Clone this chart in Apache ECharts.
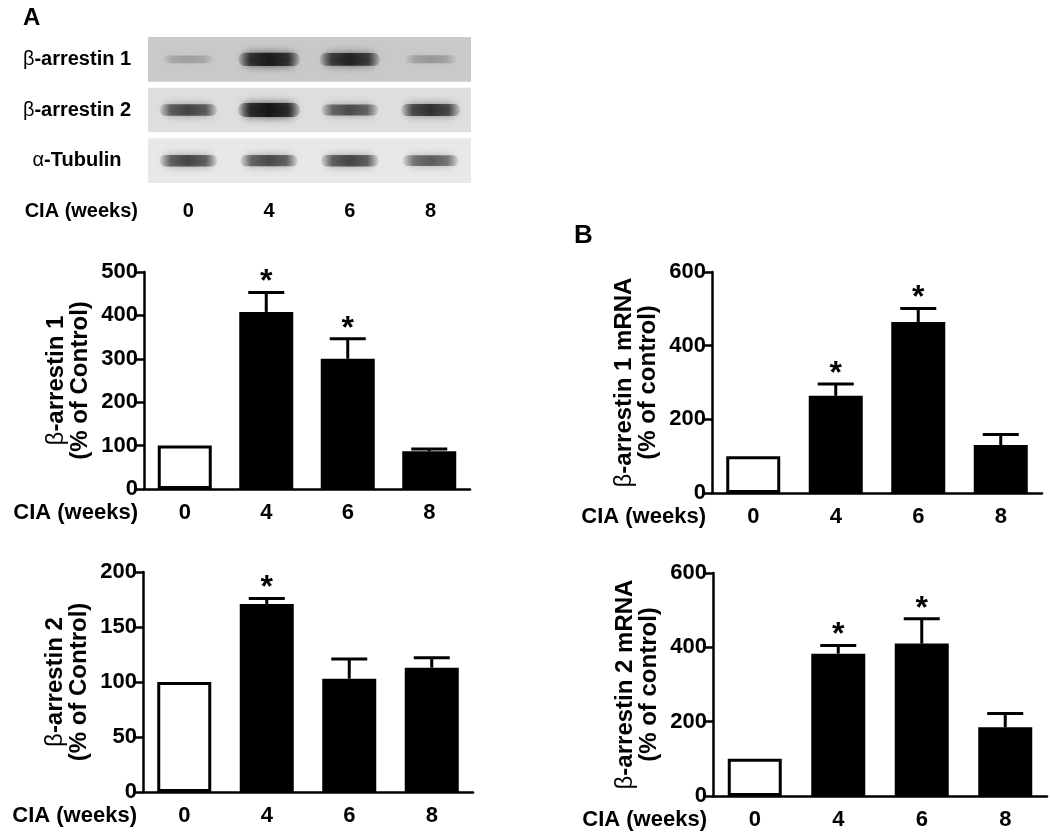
<!DOCTYPE html>
<html>
<head>
<meta charset="utf-8">
<script src="https://cdn.jsdelivr.net/npm/echarts@6/dist/echarts.min.js"></script>
<style>
  html, body { margin: 0; padding: 0; background: #fff; }
  #chart { width: 1050px; height: 832px; }
</style>
</head>
<body>
<div id="chart"></div>
<script>
  const weeks = ['0', '4', '6', '8']

  // western blot, band density per lane (0..1)
  const blotRows = ['{g|β}-arrestin 1', '{g|β}-arrestin 2', '{g|α}-Tubulin']
  const blotArr1 = [0.22, 0.92, 0.85, 0.25]
  const blotArr2 = [0.68, 0.97, 0.64, 0.78]
  const blotTub = [0.68, 0.66, 0.68, 0.58]

  // quantification, % of control: mean, SEM, significance
  const arr1Protein = [100, 408, 300, 87]
  const arr1ProteinSem = [0, 45, 46, 5]
  const arr1ProteinSig = [0, 1, 1, 0]

  const arr2Protein = [100, 171, 103, 113]
  const arr2ProteinSem = [0, 5, 18, 9]
  const arr2ProteinSig = [0, 1, 0, 0]

  const arr1Mrna = [100, 264, 464, 130]
  const arr1MrnaSem = [0, 32, 37, 29]
  const arr1MrnaSig = [0, 1, 1, 0]

  const arr2Mrna = [100, 383, 410, 185]
  const arr2MrnaSem = [0, 22, 67, 37]
  const arr2MrnaSig = [0, 1, 1, 0]

  const FONT = '"Liberation Sans", Arial, sans-serif'
  const panelFill = ['#c9c9c9', '#dedede', '#e8e8e8']

  const chart = echarts.init(document.getElementById('chart'), null, { renderer: 'canvas' })

  const grids = [
    { left: 148, top: 34, width: 323, height: 152 },
    { left: 144, top: 272, width: 326, height: 217 },
    { left: 143, top: 572, width: 330, height: 220 },
    { left: 712, top: 272, width: 330, height: 221 },
    { left: 713, top: 573, width: 334, height: 223 }
  ]

  const xAxes = []
  const yAxes = []
  const series = []

  // blot grid
  xAxes.push({
    gridIndex: 0, type: 'category', data: weeks,
    axisLine: { show: false }, axisTick: { show: false },
    axisLabel: { color: '#000', fontFamily: FONT, fontWeight: 'bold', fontSize: 20, margin: 15 },
    name: 'CIA (weeks)', nameLocation: 'start', nameGap: 10,
    nameTextStyle: { color: '#000', fontFamily: FONT, fontWeight: 'bold', fontSize: 20, verticalAlign: 'top', padding: [15, 0, 0, 0] }
  })
  yAxes.push({
    gridIndex: 0, type: 'category', data: blotRows, inverse: true,
    axisLine: { show: false }, axisTick: { show: false },
    axisLabel: {
      color: '#000', fontFamily: FONT, fontWeight: 'bold', fontSize: 20, align: 'center', margin: 71,
      rich: { g: { fontFamily: FONT, fontWeight: 'normal', fontSize: 20, color: '#000' } }
    }
  })

  function renderPanel(params, api) {
    const row = api.value(1)
    const c = api.coord([0, row])
    const rowH = api.size([0, 1])[1]
    const g = params.coordSys
    return {
      type: 'rect',
      shape: { x: g.x, y: c[1] - rowH / 2 + 3, width: g.width, height: rowH - 6 },
      style: { fill: panelFill[row] },
      silent: true
    }
  }

  function renderBand(params, api) {
    const lane = api.value(0), row = api.value(1), d = api.value(2)
    const c = api.coord([lane, row])
    const cw = api.size([1, 0])[0]
    const w = cw * (0.58 + 0.2 * d)
    const h = 6 + 8 * d
    const col = k => 'rgba(20,20,20,' + (d * k).toFixed(3) + ')'
    return {
      type: 'rect',
      shape: { x: c[0] - w / 2, y: c[1] - h / 2, width: w, height: h, r: h / 2 },
      style: {
        fill: new echarts.graphic.LinearGradient(0, 0, 1, 0, [
          { offset: 0, color: col(0.1) },
          { offset: 0.2, color: col(0.8) },
          { offset: 0.5, color: col(1) },
          { offset: 0.8, color: col(0.8) },
          { offset: 1, color: col(0.1) }
        ]),
        shadowBlur: 9,
        shadowColor: col(0.8)
      },
      silent: true
    }
  }

  series.push({
    type: 'custom', xAxisIndex: 0, yAxisIndex: 0, silent: true, z: 1,
    renderItem: renderPanel,
    data: blotRows.map((r, i) => [0, i])
  })
  const bandData = []
  ;[blotArr1, blotArr2, blotTub].forEach((row, ri) => {
    row.forEach((d, li) => bandData.push([li, ri, d]))
  })
  series.push({
    type: 'custom', xAxisIndex: 0, yAxisIndex: 0, silent: true, z: 2,
    renderItem: renderBand,
    data: bandData
  })

  function renderErr(params, api) {
    const x = api.value(0), m = api.value(1), s = api.value(2), sig = api.value(3)
    const base = api.coord([x, m])
    const top = api.coord([x, m + s])
    const children = []
    if (s > 0) {
      children.push({ type: 'line', shape: { x1: top[0], y1: base[1], x2: top[0], y2: top[1] }, style: { stroke: '#000', lineWidth: 3 } })
      children.push({ type: 'line', shape: { x1: top[0] - 18, y1: top[1], x2: top[0] + 18, y2: top[1] }, style: { stroke: '#000', lineWidth: 3 } })
    }
    if (sig) {
      children.push({
        type: 'text', x: top[0], y: top[1] - 10,
        style: { text: '*', fontSize: 32, fontWeight: 'bold', fontFamily: FONT, fill: '#000', align: 'center', verticalAlign: 'middle' }
      })
    }
    return { type: 'group', children: children }
  }

  function addBarChart(gi, means, sems, sigs, max, interval, yName) {
    const axisStyle = { color: '#000', width: 2.5 }
    xAxes.push({
      gridIndex: gi, type: 'category', data: weeks,
      axisLine: { lineStyle: axisStyle }, axisTick: { show: false },
      axisLabel: { color: '#000', fontFamily: FONT, fontWeight: 'bold', fontSize: 22, margin: 13 },
      name: 'CIA (weeks)', nameLocation: 'start', nameGap: 6,
      nameTextStyle: { color: '#000', fontFamily: FONT, fontWeight: 'bold', fontSize: 22, verticalAlign: 'top', padding: [13, 0, 0, 0] }
    })
    yAxes.push({
      gridIndex: gi, type: 'value', min: 0, max: max, interval: interval,
      splitLine: { show: false },
      axisLine: { show: true, lineStyle: axisStyle },
      axisTick: { show: true, length: 8, lineStyle: axisStyle },
      axisLabel: { color: '#000', fontFamily: FONT, fontWeight: 'bold', fontSize: 22, margin: 6 },
      name: yName, nameLocation: 'middle', nameRotate: 90, nameGap: 52,
      nameTextStyle: {
        color: '#000', fontFamily: FONT, fontWeight: 'bold', fontSize: 24, lineHeight: 24, align: 'center',
        rich: { g: { fontFamily: FONT, fontWeight: 'normal', fontSize: 24, lineHeight: 24, color: '#000' } }
      }
    })
    series.push({
      type: 'bar', xAxisIndex: gi, yAxisIndex: gi, barWidth: 54, z: 2,
      itemStyle: { color: '#000', borderColor: '#000', borderWidth: 3 },
      data: means.map((v, i) => i === 0 ? { value: v, itemStyle: { color: '#fff' } } : v)
    })
    series.push({
      type: 'custom', xAxisIndex: gi, yAxisIndex: gi, z: 3, silent: true,
      renderItem: renderErr,
      data: means.map((v, i) => [i, v, sems[i], sigs[i]])
    })
  }

  addBarChart(1, arr1Protein, arr1ProteinSem, arr1ProteinSig, 500, 100, '{g|β}-arrestin 1\n(% of Control)')
  addBarChart(2, arr2Protein, arr2ProteinSem, arr2ProteinSig, 200, 50, '{g|β}-arrestin 2\n(% of Control)')
  addBarChart(3, arr1Mrna, arr1MrnaSem, arr1MrnaSig, 600, 200, '{g|β}-arrestin 1 mRNA\n(% of control)')
  addBarChart(4, arr2Mrna, arr2MrnaSem, arr2MrnaSig, 600, 200, '{g|β}-arrestin 2 mRNA\n(% of control)')

  chart.setOption({
    backgroundColor: '#fff',
    animation: false,
    grid: grids,
    xAxis: xAxes,
    yAxis: yAxes,
    series: series,
    graphic: [
      { type: 'text', left: 23, top: 6, style: { text: 'A', fontFamily: FONT, fontWeight: 'bold', fontSize: 24, fill: '#000' } },
      { type: 'text', left: 574, top: 223, style: { text: 'B', fontFamily: FONT, fontWeight: 'bold', fontSize: 26, fill: '#000' } }
    ]
  })
</script>
</body>
</html>
